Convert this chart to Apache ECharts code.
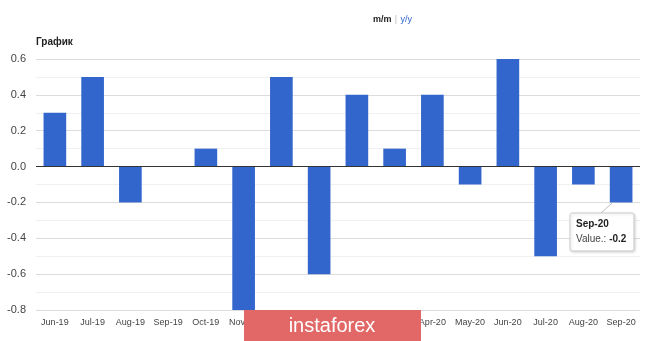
<!DOCTYPE html>
<html><head><meta charset="utf-8">
<script src="https://cdn.jsdelivr.net/npm/echarts@6/dist/echarts.min.js"></script>
<style>html,body{margin:0;padding:0;background:#fff}#c{width:665px;height:341px}</style>
</head><body><div id="c"></div>
<script>
var categories = ['Jun-19','Jul-19','Aug-19','Sep-19','Oct-19','Nov-19','Dec-19','Jan-20','Feb-20','Mar-20','Apr-20','May-20','Jun-20','Jul-20','Aug-20','Sep-20'];
var values = [0.3, 0.5, -0.2, 0, 0.1, -0.8, 0.5, -0.6, 0.4, 0.1, 0.4, -0.1, 0.6, -0.5, -0.1, -0.2];
var chart = echarts.init(document.getElementById('c'));
chart.setOption({
  animation: false,
  grid: {left: 36, right: 25, top: 59, bottom: 31},
  xAxis: {
    type: 'category', data: categories,
    axisLine: {show: false, onZero: false}, axisTick: {show: false},
    axisLabel: {color: '#444', fontSize: 9, fontFamily: 'Arial, Liberation Sans', margin: 8, interval: 0}
  },
  yAxis: {
    type: 'value', min: -0.8, max: 0.6, interval: 0.2,
    axisLine: {show: false}, axisTick: {show: false},
    axisLabel: {color: '#444', fontSize: 11, fontFamily: 'Arial, Liberation Sans', margin: 10,
      formatter: function(v){ return v.toFixed(1); }},
    splitLine: {lineStyle: {color: '#dcdcdc'}},
    minorTick: {show: false, splitNumber: 2},
    minorSplitLine: {show: true, lineStyle: {color: '#f0f0f0'}}
  },
  series: [{
    type: 'bar', data: values, barWidth: '60%',
    itemStyle: {color: '#3366cc'},
    markLine: {silent: true, symbol: 'none', label: {show: false},
      lineStyle: {color: '#333', type: 'solid', width: 1},
      data: [{yAxis: 0}]}
  }],
  graphic: [
    {type: 'text', z: 100, left: 36, top: 37, style: {text: 'График', font: 'bold 10px Arial, Liberation Sans', fill: '#222'}},
    {type: 'text', z: 100, left: 373, top: 14, style: {
      text: '{a|m/m} {b||} {c|y/y}',
      rich: {a: {font: 'bold 9px Arial, Liberation Sans', fill: '#222'},
             b: {font: '9px Arial, Liberation Sans', fill: '#bbb'},
             c: {font: '9px Arial, Liberation Sans', fill: '#3366cc', textDecoration: 'underline'}}}},
    {type: 'line', z: 100, shape: {x1: 612, y1: 203, x2: 600, y2: 214}, style: {stroke: '#bbb', lineWidth: 1}},
    {type: 'rect', z: 100, shape: {x: 570, y: 213, width: 64, height: 38, r: 2},
      style: {fill: '#fff', stroke: '#ccc', lineWidth: 1, shadowBlur: 3, shadowColor: 'rgba(0,0,0,0.15)', shadowOffsetX: 1, shadowOffsetY: 1}},
    {type: 'text', z: 101, left: 576, top: 219, style: {text: 'Sep-20', font: 'bold 10px Arial, Liberation Sans', fill: '#222'}},
    {type: 'text', z: 101, left: 576, top: 234, style: {
      text: '{a|Value.: }{b|-0.2}',
      rich: {a: {font: '10px Arial, Liberation Sans', fill: '#444'}, b: {font: 'bold 10px Arial, Liberation Sans', fill: '#222'}}}},
    {type: 'rect', z: 100, shape: {x: 244, y: 310, width: 177, height: 31}, style: {fill: '#e26868'}},
    {type: 'text', z: 101, x: 332, y: 326, style: {text: 'instaforex', font: '20px Arial, Liberation Sans', fill: '#fff', align: 'center', verticalAlign: 'middle'}}
  ]
});
</script></body></html>
